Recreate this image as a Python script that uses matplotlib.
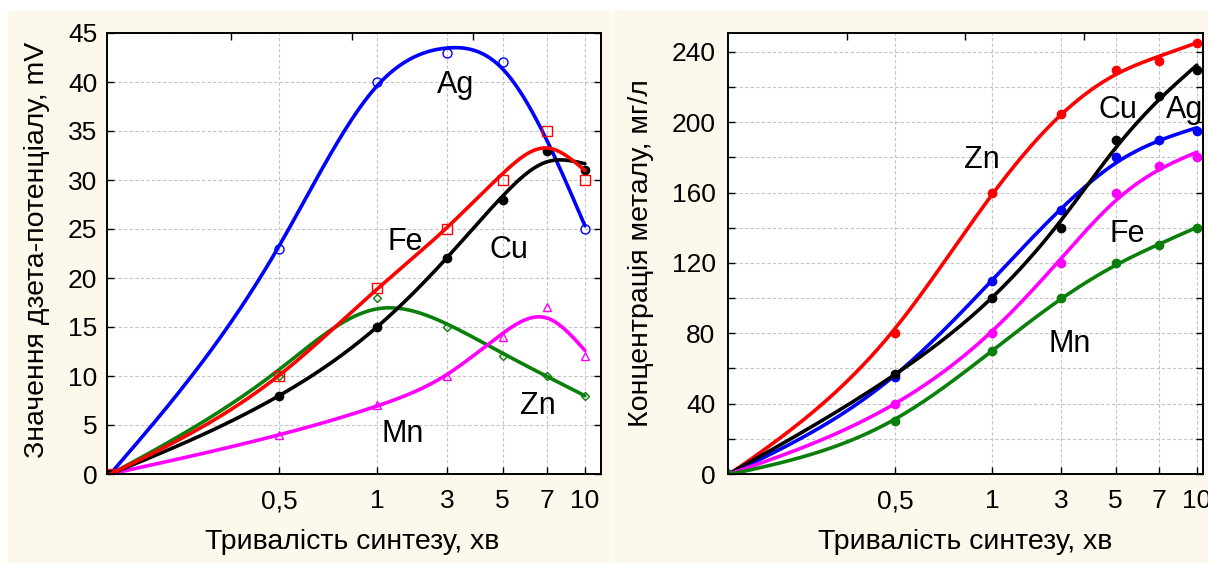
import numpy as np
import matplotlib
matplotlib.use("Agg")
import matplotlib.pyplot as plt
from matplotlib.patches import Rectangle

plt.rcParams["font.family"] = ["Liberation Sans", "DejaVu Sans"]

# synthesis time, min
TIME = [0, 0.5, 1, 3, 5, 7, 10]
TIME_LABELS = ["0,5", "1", "3", "5", "7", "10"]

# zeta potential, mV
ZETA_AG = [0, 23, 40, 43, 42, np.nan, 25]
ZETA_FE = [0, 10, 19, 25, 30, 35, 30]
ZETA_CU = [0, 8, 15, 22, 28, 33, 31]
ZETA_ZN = [0, 10, 18, 15, 12, 10, 8]
ZETA_MN = [0, 4, 7, 10, 14, 17, 12]

# metal concentration, mg/l
CONC_ZN = [0, 80, 160, 205, 230, 235, 245]
CONC_CU = [0, 57, 100, 140, 190, 215, 230]
CONC_AG = [0, 55, 110, 150, 180, 190, 195]
CONC_FE = [0, 40, 80, 120, 160, 175, 180]
CONC_MN = [0, 30, 70, 100, 120, 130, 140]

# the x axis of the original is stretched unevenly: where each time sits
X_ANCHOR = [-10, 0, 0.5, 1, 3, 5, 7, 10, 30]
POS_ANCHOR = [-7.12, 0, 0.356, 0.563, 0.71, 0.827, 0.92, 1.0, 1.534]

CREAM = "#fdf8ec"
GRID = "#c4c4c4"
GREEN = "#0a800a"


def to_pos(x):
    return np.interp(np.asarray(x, float), X_ANCHOR, POS_ANCHOR)


def from_pos(u):
    return np.interp(np.asarray(u, float), POS_ANCHOR, X_ANCHOR)


def smooth(x, y, lam, n=300):
    x = np.asarray(x, float)
    y = np.asarray(y, float)
    ok = ~np.isnan(y)
    u = to_pos(x[ok])
    yv = y[ok]
    grid = np.linspace(u.min(), u.max(), n)
    h = grid[1] - grid[0]
    A = np.zeros((len(u), n))
    for i, ui in enumerate(u):
        j = min(int((ui - grid[0]) / h), n - 2)
        t = (ui - grid[j]) / h
        A[i, j] += 1 - t
        A[i, j + 1] += t
    D = np.diff(np.eye(n), 2, axis=0) / h ** 2
    f = np.linalg.solve(A.T @ A + lam * h * D.T @ D, A.T @ yv)
    return from_pos(grid), f


def setup_axis(ax, xlim, ylim, yticks, ylabels, top_ticks, ypad):
    ax.set_xscale("function", functions=(to_pos, from_pos))
    ax.set_xlim(*xlim)
    ax.set_ylim(*ylim)
    ax.set_xticks(TIME[1:])
    ax.set_xticklabels(TIME_LABELS)
    ax.set_yticks(yticks)
    ax.set_yticklabels(ylabels)
    ax.grid(True, color=GRID, linestyle=(0, (3, 2)), linewidth=0.8)
    ax.set_axisbelow(True)
    ax.tick_params(axis="both", direction="in", length=5, width=1,
                   right=True, labelsize=19)
    ax.tick_params(axis="x", pad=11)
    ax.tick_params(axis="y", pad=ypad)
    for sp in ax.spines.values():
        sp.set_linewidth(1.2)

    top = ax.twiny()
    top.set_xlim(to_pos(xlim[0]), to_pos(xlim[1]))
    top.set_xticks(top_ticks)
    top.tick_params(axis="x", direction="in", length=5, width=1,
                    labeltop=False)
    for sp in top.spines.values():
        sp.set_linewidth(1.2)
    return top


def draw(ax, y, color, marker, ms, fill, lam, z):
    cx, cy = smooth(TIME, y, lam)
    ax.plot(cx, cy, color=color, lw=2.6, zorder=z, solid_capstyle="round")
    ax.plot(TIME, y, linestyle="none", marker=marker, ms=ms,
            mfc=color if fill else "none", mec=color, mew=1,
            zorder=z + 0.5)


fig = plt.figure(figsize=(12.08, 5.63), dpi=100)
fig.patch.set_facecolor("white")
fig.add_artist(Rectangle((8 / 1208, 0), 602 / 1208, 552 / 563,
                         transform=fig.transFigure, color=CREAM, zorder=-10))
fig.add_artist(Rectangle((613 / 1208, 0), 595 / 1208, 552 / 563,
                         transform=fig.transFigure, color=CREAM, zorder=-10))

# left panel: zeta potential
ax1 = fig.add_axes([107 / 1208, 89 / 563, 494 / 1208, 441 / 563])
setup_axis(ax1, (-0.009, 11.27), (0, 45), list(range(0, 46, 5)),
           [str(v) for v in range(0, 46, 5)], [0.255, 0.51, 0.765], 7)

draw(ax1, ZETA_AG, "#0000ff", "o", 6.5, False, 8e-5, 2)
draw(ax1, ZETA_ZN, GREEN, "D", 4, False, 3e-4, 3)
draw(ax1, ZETA_MN, "#ff00ff", "^", 6, False, 5e-5, 4)
draw(ax1, ZETA_CU, "black", "o", 6, True, 8e-5, 5)
draw(ax1, ZETA_FE, "#ff0000", "s", 6.5, False, 8e-5, 6)

for name, x, y in [("Ag", 0.668, 0.864), ("Fe", 0.567, 0.508),
                   ("Cu", 0.775, 0.49), ("Zn", 0.836, 0.136),
                   ("Mn", 0.555, 0.073)]:
    ax1.text(x, y, name, transform=ax1.transAxes, fontsize=22,
             ha="left", va="baseline", zorder=10)

ax1.set_xlabel("Тривалість синтезу, хв", fontsize=20.5)
ax1.xaxis.set_label_coords(0.496, -0.125)
ax1.set_ylabel("Значення дзета-потенціалу, mV", fontsize=20.5, va="center")
ax1.yaxis.set_label_coords(-0.142, 0.508)

# right panel: metal concentration
ax2 = fig.add_axes([728 / 1208, 89 / 563, 475 / 1208, 441 / 563])
setup_axis(ax2, (0, 10.49), (0, 250.8), list(range(0, 241, 20)),
           [str(v) if v % 40 == 0 else "" for v in range(0, 241, 20)],
           [0.254, 0.505, 0.759], 9)

lam_conc = 3e-4
draw(ax2, CONC_ZN, "#ff0000", "o", 6, True, lam_conc, 2)
draw(ax2, CONC_AG, "#0000ff", "o", 6, True, lam_conc, 3)
draw(ax2, CONC_CU, "black", "o", 6, True, lam_conc, 4)
draw(ax2, CONC_FE, "#ff00ff", "o", 6, True, lam_conc, 5)
draw(ax2, CONC_MN, GREEN, "o", 6, True, lam_conc, 6)

for name, x, y in [("Zn", 0.497, 0.694), ("Cu", 0.781, 0.807),
                   ("Ag", 0.922, 0.807), ("Fe", 0.804, 0.526),
                   ("Mn", 0.674, 0.277)]:
    ax2.text(x, y, name, transform=ax2.transAxes, fontsize=22,
             ha="left", va="baseline", zorder=10, clip_on=True)

ax2.set_xlabel("Тривалість синтезу, хв", fontsize=20.5)
ax2.xaxis.set_label_coords(0.499, -0.125)
ax2.set_ylabel("Концентрація металу, мг/л", fontsize=20.5, va="center")
ax2.yaxis.set_label_coords(-0.183, 0.501)

fig.savefig("out.png", dpi=100)
